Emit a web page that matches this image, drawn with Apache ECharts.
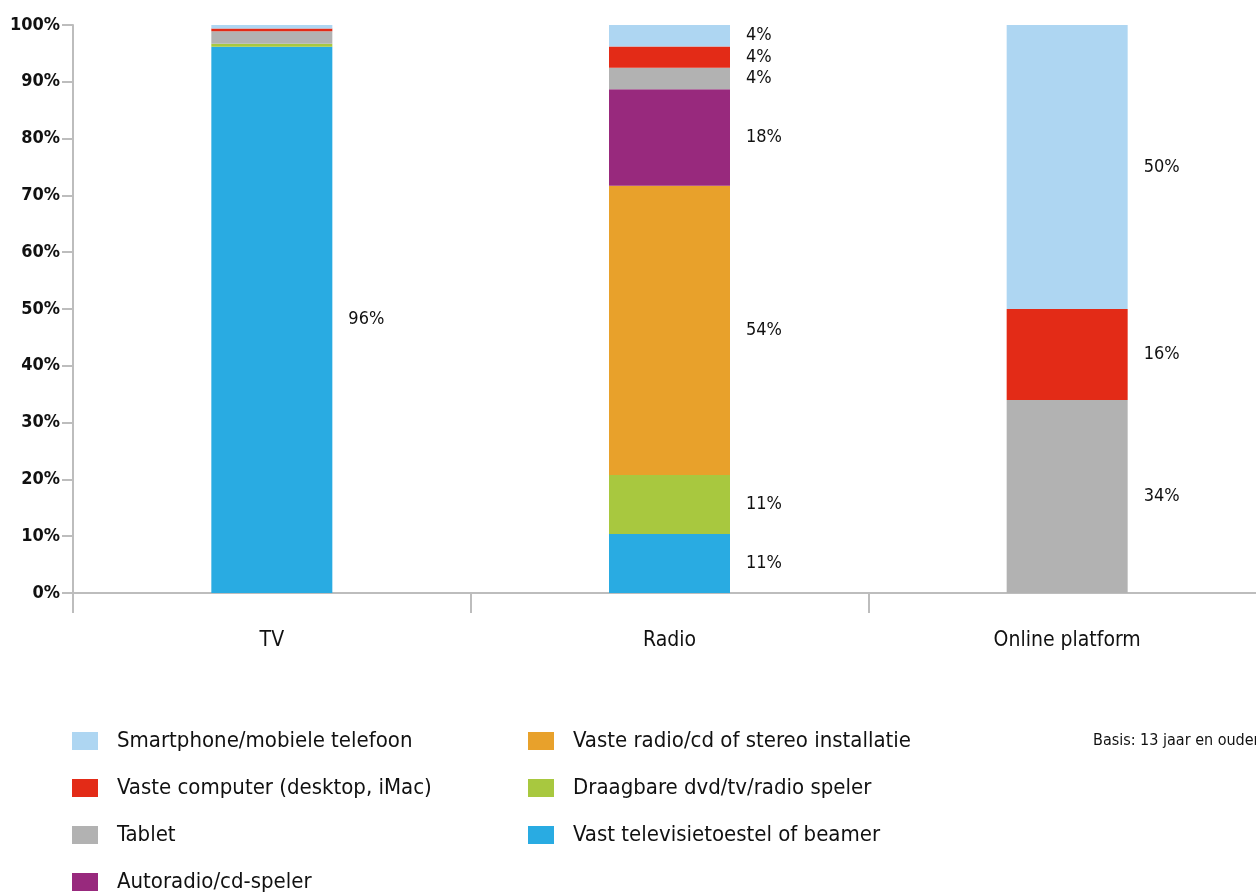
<!DOCTYPE html>
<html>
<head>
<meta charset="utf-8">
<style>
  html, body { margin: 0; padding: 0; background: #ffffff; overflow: hidden; }
  /* the plot runs slightly past the right edge of the window */
  #chart { width: 1266px; height: 894px; }
</style>
<script src="https://cdn.jsdelivr.net/npm/echarts@6/dist/echarts.min.js"></script>
</head>
<body>
<div id="chart"></div>
<script>
// Device usage per medium (percent of respondents, 100% stacked)
const categories = ['TV', 'Radio', 'Online platform'];
const yTicks = ['0%', '10%', '20%', '30%', '40%', '50%', '60%', '70%', '80%', '90%', '100%'];

const smartphone = [0.6, 4, 50];
const vasteComputer = [0.5, 4, 16];
const tablet = [2.2, 4, 34];
const autoradio = [0, 18, 0];
const vasteRadio = [0, 54, 0];
const draagbaar = [0.5, 11, 0];
const televisie = [96, 11, 0];

const seriesDefs = [
  { name: 'Vast televisietoestel of beamer', values: televisie, color: '#29abe2' },
  { name: 'Draagbare dvd/tv/radio speler', values: draagbaar, color: '#a8c83f' },
  { name: 'Vaste radio/cd of stereo installatie', values: vasteRadio, color: '#e8a12b' },
  { name: 'Autoradio/cd-speler', values: autoradio, color: '#98297d' },
  { name: 'Tablet', values: tablet, color: '#b2b2b2' },
  { name: 'Vaste computer (desktop, iMac)', values: vasteComputer, color: '#e32b17' },
  { name: 'Smartphone/mobiele telefoon', values: smartphone, color: '#aed6f2' }
];

const FONT = "'DejaVu Sans Condensed', 'Liberation Sans Narrow', 'Roboto', sans-serif";

// each column is scaled to 100%
const totals = categories.map((_, i) => seriesDefs.reduce((s, d) => s + d.values[i], 0));

const series = seriesDefs.map(d => ({
  name: d.name,
  type: 'bar',
  stack: 'total',
  barWidth: 121,
  itemStyle: { color: d.color },
  data: d.values.map((v, i) => ({
    value: v / totals[i] * 100,
    raw: v,
    label: { show: v >= 3 }
  })),
  label: {
    position: 'right',
    distance: 16,
    color: '#111',
    fontFamily: FONT,
    fontSize: 18,
    formatter: p => Math.round(p.data.raw) + '%'
  }
}));

const legendCommon = {
  orient: 'vertical',
  top: 730,
  padding: 0,
  itemWidth: 26,
  itemHeight: 18,
  itemGap: 25,
  icon: 'rect',
  textStyle: { fontSize: 22, color: '#111', fontFamily: FONT, padding: [0, 0, 0, 14] }
};

const chart = echarts.init(document.getElementById('chart'), null, { renderer: 'canvas' });
chart.setOption({
  animation: false,
  backgroundColor: '#ffffff',
  textStyle: { fontFamily: FONT },
  grid: { left: 73, top: 25, bottom: 301, right: 0, containLabel: false },
  xAxis: {
    type: 'category',
    data: categories,
    boundaryGap: true,
    axisLine: { lineStyle: { color: '#bdbdbd', width: 2 } },
    axisTick: { show: true, length: 20, alignWithLabel: false, lineStyle: { color: '#bdbdbd', width: 2 } },
    axisLabel: { margin: 37, color: '#111', fontSize: 21, fontFamily: FONT }
  },
  yAxis: {
    type: 'value',
    min: 0,
    max: 100,
    interval: 10,
    splitLine: { show: false },
    axisLine: { show: true, lineStyle: { color: '#bdbdbd', width: 2 } },
    axisTick: { show: true, length: 11, lineStyle: { color: '#bdbdbd', width: 2 } },
    axisLabel: {
      margin: 13,
      color: '#111',
      fontSize: 18,
      fontWeight: 'bold',
      fontFamily: FONT,
      formatter: v => yTicks[Math.round(v / 10)]
    }
  },
  legend: [
    Object.assign({}, legendCommon, {
      left: 72,
      data: ['Smartphone/mobiele telefoon', 'Vaste computer (desktop, iMac)', 'Tablet', 'Autoradio/cd-speler']
    }),
    Object.assign({}, legendCommon, {
      left: 528,
      data: ['Vaste radio/cd of stereo installatie', 'Draagbare dvd/tv/radio speler', 'Vast televisietoestel of beamer']
    })
  ],
  graphic: [
    {
      type: 'text',
      left: 1093,
      top: 733,
      style: { text: 'Basis: 13 jaar en ouder', fontSize: 16, fill: '#111', fontFamily: FONT }
    }
  ],
  series: series
});
</script>
</body>
</html>
